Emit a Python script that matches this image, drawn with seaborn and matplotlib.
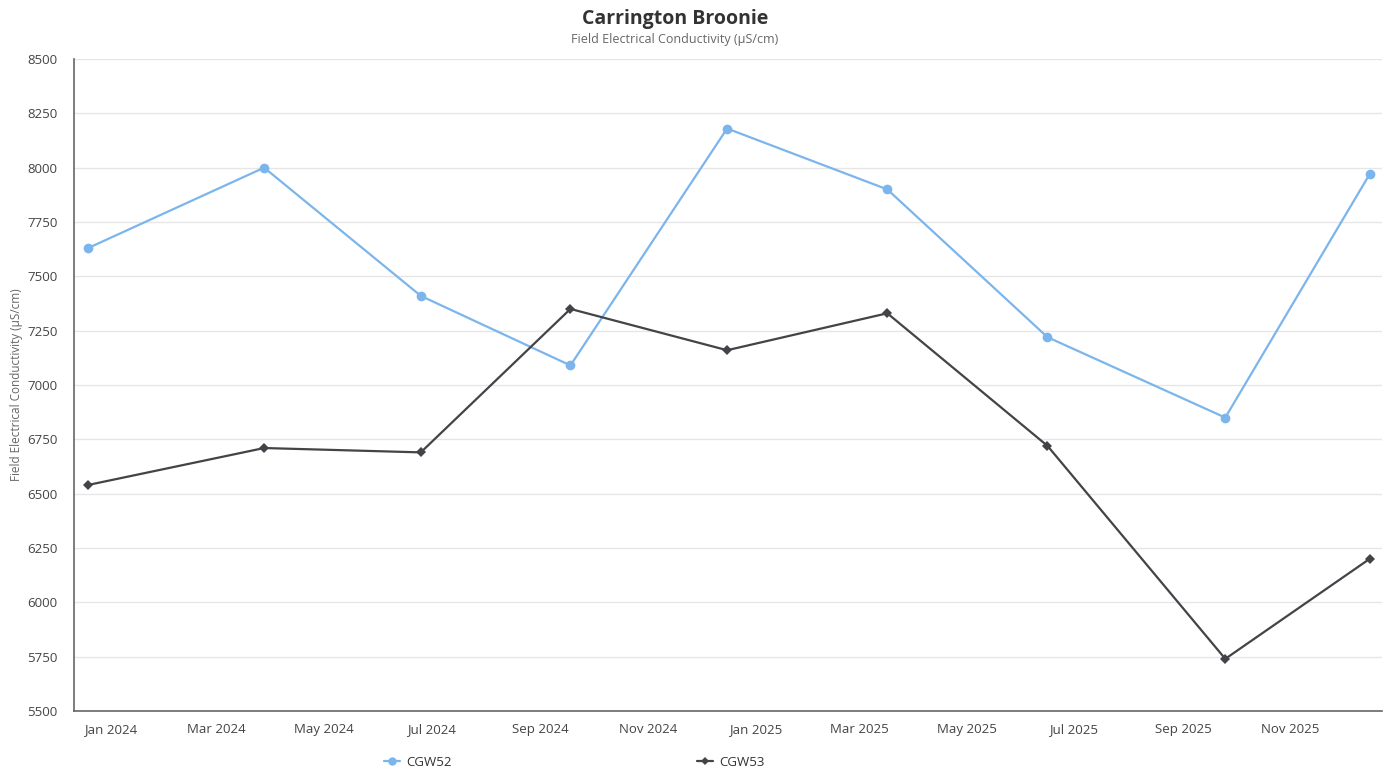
import matplotlib
matplotlib.use("Agg")
import matplotlib.pyplot as plt
import matplotlib.dates as mdates
from matplotlib.lines import Line2D
import seaborn as sns
import pandas as pd

dates = ["2023-12-19", "2024-03-28", "2024-06-25", "2024-09-18", "2024-12-16",
         "2025-03-17", "2025-06-16", "2025-09-25", "2025-12-16"]
cgw52 = [7630, 8000, 7410, 7090, 8180, 7900, 7220, 6850, 7970]
cgw53 = [6540, 6710, 6690, 7350, 7160, 7330, 6720, 5740, 6200]
series_names = ["CGW52", "CGW53"]
y_ticks = [5500, 5750, 6000, 6250, 6500, 6750, 7000, 7250, 7500, 7750, 8000, 8250, 8500]

df = pd.DataFrame({
    "date": pd.to_datetime(dates * 2),
    "value": cgw52 + cgw53,
    "series": [series_names[0]] * len(dates) + [series_names[1]] * len(dates),
})

sns.set_theme(style="white")
plt.rcParams["font.family"] = ["Open Sans", "DejaVu Sans"]

colors = {"CGW52": "#7cb5ec", "CGW53": "#434348"}
markers = {"CGW52": "o", "CGW53": "D"}
msizes = {"CGW52": 7, "CGW53": 5}

fig = plt.figure(figsize=(13.91, 7.71), dpi=100)
ax = fig.add_axes([0.0532, 0.0778, 0.9403, 0.8457])

for name in series_names:
    sub = df[df["series"] == name]
    sns.lineplot(data=sub, x="date", y="value", ax=ax, color=colors[name],
                 marker=markers[name], markersize=msizes[name], markeredgewidth=0,
                 linewidth=1.6, legend=False)

ax.set_ylim(5500, 8500)
ax.set_yticks(y_ticks)
ax.set_xlim(pd.Timestamp("2023-12-11"), pd.Timestamp("2025-12-23"))
ax.xaxis.set_major_locator(mdates.MonthLocator(bymonth=[1, 3, 5, 7, 9, 11]))
ax.xaxis.set_major_formatter(mdates.DateFormatter("%b %Y"))

ax.grid(axis="y", color="#e6e6e6", linewidth=1)
ax.grid(axis="x", visible=False)
for s in ["top", "right"]:
    ax.spines[s].set_visible(False)
ax.spines["left"].set_color("#666666")
ax.spines["bottom"].set_color("#666666")
ax.spines["left"].set_linewidth(1.2)
ax.spines["bottom"].set_linewidth(1.2)
ax.tick_params(axis="x", direction="out", length=7.2, width=1, color="#666666",
               labelsize=9.5, labelcolor="#444444", pad=1.5)
ax.tick_params(axis="y", length=0, labelsize=9.5, labelcolor="#444444", pad=12)
ax.set_xlabel("")
ax.set_ylabel("")
fig.text(17 / 1391, 1 - 385 / 771, "Field Electrical Conductivity (µS/cm)", rotation=90,
         ha="center", va="center", fontsize=8.5, color="#666666")

fig.text(0.4853, 0.976, "Carrington Broonie", ha="center", va="center",
         fontsize=14, fontweight="bold", color="#333333")
fig.text(0.4853, 0.949, "Field Electrical Conductivity (µS/cm)", ha="center", va="center",
         fontsize=9, color="#666666")

handles = [Line2D([0], [0], color=colors[n], marker=markers[n], markersize=msizes[n] - 1,
                  markeredgewidth=0, linewidth=1.6) for n in series_names]
fig.legend(handles, series_names, loc="center", bbox_to_anchor=(0.413, 0.011),
           ncol=2, frameon=False, fontsize=9.5, handlelength=1.2, handletextpad=0.5,
           columnspacing=18.6, labelcolor="#333333")

fig.savefig("out.png", dpi=100)
